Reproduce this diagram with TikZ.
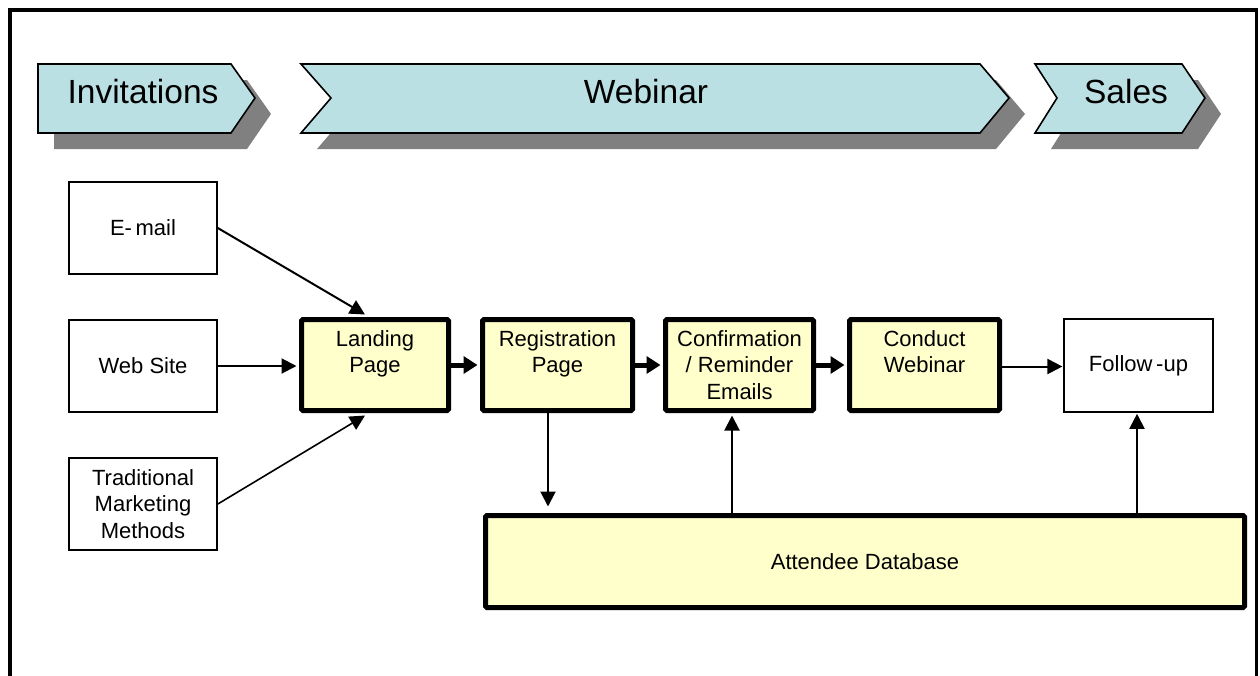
\documentclass[tikz,border=0pt]{standalone}
\usepackage{fontspec}
\setmainfont{Liberation Sans}
\usetikzlibrary{arrows.meta,calc}
\definecolor{phasefill}{HTML}{BBE0E3}
\definecolor{phaseshadow}{HTML}{808080}
\definecolor{stepfill}{HTML}{FFFFCC}
\begin{document}
\begin{tikzpicture}[x=1pt,y=-1pt,
  phase/.style={draw=black, line width=1.6pt, fill=phasefill, line join=miter},
  phaseshade/.style={fill=phaseshadow},
  phaselabel/.style={font=\fontsize{33.5}{33.5}\selectfont, anchor=base, inner sep=0pt},
  source/.style={draw=black, line width=1.6pt, fill=white, minimum width=148pt,
    minimum height=92pt, inner sep=0pt, align=center,
    font=\fontsize{22}{26.5}\selectfont},
  stepbox/.style={draw=black, line width=5pt, fill=stepfill, rounded corners=1.5pt,
    minimum width=149pt, minimum height=91pt, inner sep=0pt, align=center,
    font=\fontsize{22}{26.5}\selectfont},
  thinarrow/.style={line width=2pt, -{Triangle[length=15pt,width=15pt]}},
  thickarrow/.style={line width=5pt, -{Triangle[length=14pt,width=17pt]}},
]
\useasboundingbox (0,0) rectangle (1260,675);

% outer frame, open at the bottom
\draw[line width=3.5pt] (10,700) -- (10,10) -- (1256.5,10) -- (1256.5,700);

% phase chevrons with drop shadows
\begin{scope}[shift={(16,16)}]
  \fill[phaseshade] (38,64) -- (231,64) -- (255,98) -- (231,133) -- (38,133) -- cycle;
  \fill[phaseshade] (301,64) -- (980,64) -- (1009,98) -- (980,133) -- (301,133) -- (331,98) -- cycle;
  \fill[phaseshade] (1035,64) -- (1182,64) -- (1205,98) -- (1182,133) -- (1035,133) -- (1057,98) -- cycle;
\end{scope}
\draw[phase] (38,64) -- (231,64) -- (255,98) -- (231,133) -- (38,133) -- cycle;
\draw[phase] (301,64) -- (980,64) -- (1009,98) -- (980,133) -- (301,133) -- (331,98) -- cycle;
\draw[phase] (1035,64) -- (1182,64) -- (1205,98) -- (1182,133) -- (1035,133) -- (1057,98) -- cycle;
\node[phaselabel] (invit) at (143,103) {Invitations};
\node[phaselabel] (webin) at (646,103) {Webinar};
\node[phaselabel] (sales) at (1126,103) {Sales};

% invitation channels
\node[source] (email) at (143,228) {E-\,mail};
\node[source] (web)   at (143,366) {Web Site};
\node[source] (trad)  at (143,504) {Traditional\\Marketing\\Methods};

% webinar steps
\node[stepbox, minimum width=147pt] (landing) at (375,365) {Landing\\Page\\\mbox{}};
\node[stepbox, minimum width=150pt] (reg)     at (557.5,365) {Registration\\Page\\\mbox{}};
\node[stepbox, minimum width=148pt] (conf)    at (739.5,365) {Confirmation\\/ Reminder\\Emails};
\node[stepbox, minimum width=150pt] (cond)    at (924.5,365) {Conduct\\Webinar\\\mbox{}};
\node[source, minimum width=149pt, minimum height=93pt] (follow) at (1138.5,365.5) {Follow\,-up};
\node[stepbox, minimum width=759pt, minimum height=92pt] (attendee) at (865,561.5) {Attendee Database};

% connectors
\draw[thinarrow] (email.east) -- ([xshift=-10pt,yshift=2.5pt]landing.north);
\draw[thinarrow] (web.east) -- ([xshift=-2.5pt]web.east -| landing.west);
\draw[thinarrow, line width=1.6pt] (trad.east) -- ([xshift=-10pt,yshift=-2.5pt]landing.south);
\draw[thickarrow] (landing.east) -- ([xshift=-2.5pt]reg.west);
\draw[thickarrow] (reg.east) -- ([xshift=-2.5pt]conf.west);
\draw[thickarrow] (conf.east) -- ([xshift=-2.5pt]cond.west);
\draw[thinarrow] ([yshift=-1.5pt]cond.east) -- ([xshift=-0.8pt,yshift=-1.5pt]cond.east -| follow.west);
\draw[thinarrow, shorten >=6.5pt] ([xshift=-9.5pt]reg.south) -- ([xshift=-9.5pt]reg.south |- attendee.north);
\draw[thinarrow] ([xshift=-7.5pt]conf.south |- attendee.north) -- ([xshift=-7.5pt,yshift=-2.5pt]conf.south);
\draw[thinarrow] ([xshift=-1.5pt]follow.south |- attendee.north) -- ([xshift=-1.5pt,yshift=-1pt]follow.south);
\end{tikzpicture}
\end{document}
